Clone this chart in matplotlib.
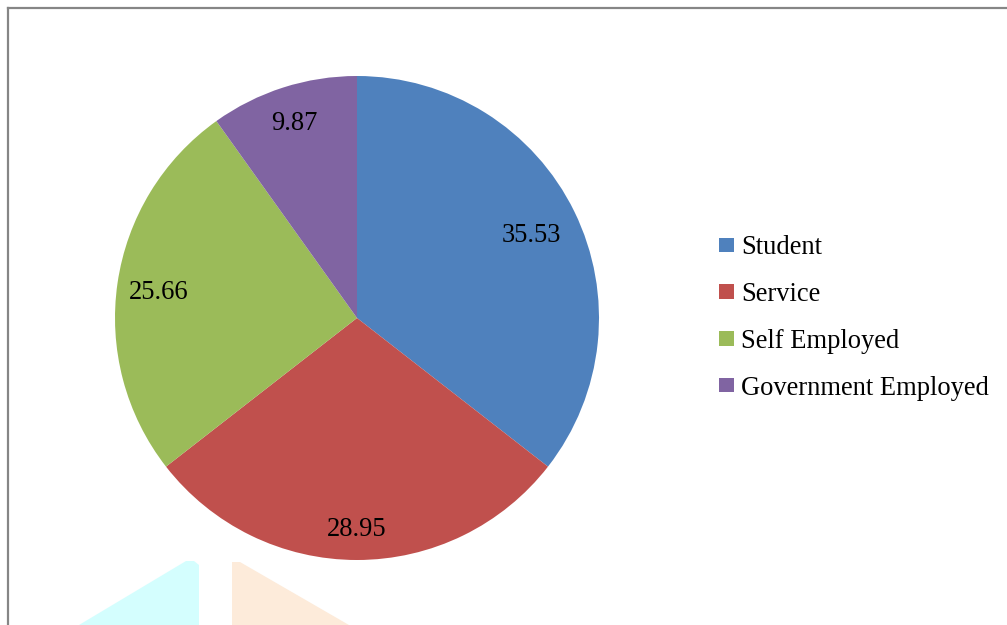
import numpy as np
import matplotlib
matplotlib.use("Agg")
import matplotlib.pyplot as plt
from matplotlib.patches import Polygon, Rectangle
from matplotlib.lines import Line2D

# Occupation breakdown (percent)
categories = ["Student", "Service", "Self Employed", "Government Employed"]
values = [35.53, 28.95, 25.66, 9.87]
value_labels = ["35.53", "28.95", "25.66", "9.87"]
colors = ["#4F81BD", "#C0504D", "#9BBB59", "#8064A2"]

# radial position of each value label (fraction of radius)
label_radius = [0.80, 0.86, 0.83, 0.855]

W, H, DPI = 1007, 625, 100
fig = plt.figure(figsize=(W / DPI, H / DPI), dpi=DPI)
fig.patch.set_facecolor("white")

def px(v):
    return v * 72 / DPI

FONT = ["Liberation Serif", "DejaVu Serif"]
FS = px(26.5)

# outer frame (gray, top and left visible)
fig.add_artist(Line2D([7.5 / W, 7.5 / W], [0, 1 - 7.5 / H], transform=fig.transFigure,
                      color="#868686", lw=px(2.2)))
fig.add_artist(Line2D([7.5 / W, 1], [1 - 7.5 / H, 1 - 7.5 / H], transform=fig.transFigure,
                      color="#868686", lw=px(2.2)))

# pale decorative shapes along the bottom edge
def fig_poly(pts, color):
    pts = [(x / W, 1 - y / H) for x, y in pts]
    fig.add_artist(Polygon(pts, closed=True, transform=fig.transFigure,
                           facecolor=color, edgecolor="none", zorder=0))

fig_poly([(79, 625), (186, 561), (194, 561), (199, 565), (199, 625)], "#D4FEFE")
fig_poly([(232, 562), (240, 562), (349, 625), (232, 625)], "#FDEBDA")

# pie axes placed by pixel geometry
cx, cy, r = 357, 318, 242
ax = fig.add_axes([(cx - r) / W, (H - cy - r) / H, 2 * r / W, 2 * r / H])
wedges, _ = ax.pie(values, colors=colors, startangle=90, counterclock=False,
                   radius=1.0, wedgeprops=dict(linewidth=0))
ax.set_xlim(-1, 1)
ax.set_ylim(-1, 1)
ax.set_aspect("equal")
ax.axis("off")

for w, lab, rr in zip(wedges, value_labels, label_radius):
    ang = np.deg2rad((w.theta1 + w.theta2) / 2)
    ax.text(rr * np.cos(ang), rr * np.sin(ang), lab, ha="center", va="center_baseline",
            fontsize=FS, family=FONT, color="black")

# legend
leg_x, leg_y0, leg_dy, sq = 719, 245, 46.7, 14.5
for i, (name, c) in enumerate(zip(categories, colors)):
    y = leg_y0 + i * leg_dy
    fig.add_artist(Rectangle((leg_x / W, 1 - (y + sq / 2) / H), sq / W, sq / H,
                             transform=fig.transFigure, facecolor=c, edgecolor="none"))
    fig.text(741 / W, 1 - y / H, name, ha="left", va="center_baseline",
             fontsize=FS, family=FONT, color="black")

fig.savefig("out.png", dpi=DPI, facecolor="white")
